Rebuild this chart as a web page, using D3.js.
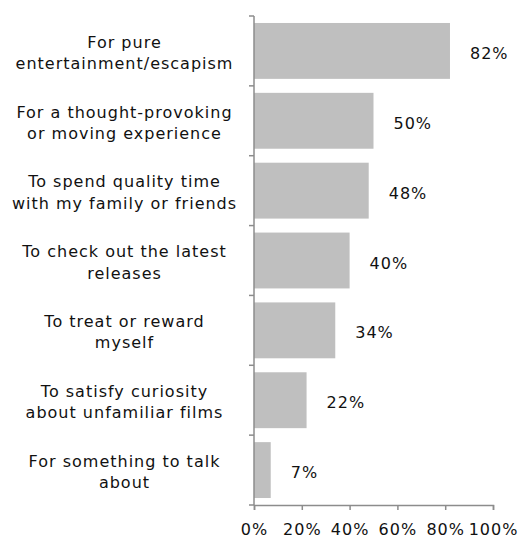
<!DOCTYPE html>
<html>
<head>
<meta charset="utf-8">
<script src="https://cdn.jsdelivr.net/npm/d3@7"></script>
<style>
  html, body { margin: 0; padding: 0; background: #fff; }
  svg text { font-family: "DejaVu Sans", Verdana, sans-serif; fill: #111; letter-spacing: 1px; }
</style>
</head>
<body>
<svg id="chart" width="520" height="538"></svg>
<script>
// Reasons for going to the cinema, share of respondents
const categories = [
  ["For pure", "entertainment/escapism"],
  ["For a thought-provoking", "or moving experience"],
  ["To spend quality time", "with my family or friends"],
  ["To check out the latest", "releases"],
  ["To treat or reward", "myself"],
  ["To satisfy curiosity", "about unfamiliar films"],
  ["For something to talk", "about"]
];
const values = [82, 50, 48, 40, 34, 22, 7];
const tickValues = [0, 20, 40, 60, 80, 100];

const margin = { top: 16, left: 254, right: 27, bottom: 33 };
const width = 520, height = 538;
const fontSize = 16;
const svg = d3.select("#chart");

const x = d3.scaleLinear().domain([0, 100]).range([margin.left, width - margin.right]);
const y = d3.scaleBand()
  .domain(d3.range(categories.length))
  .range([margin.top, height - margin.bottom])
  .paddingInner(0.2)
  .paddingOuter(0.1);

const axisColor = "#8c8c8c";

// bars
svg.append("g").selectAll("rect")
  .data(values)
  .join("rect")
  .attr("x", x(0))
  .attr("y", (d, i) => y(i))
  .attr("width", d => x(d) - x(0))
  .attr("height", y.bandwidth())
  .attr("fill", "#bfbfbf");

// value labels
svg.append("g").selectAll("text")
  .data(values)
  .join("text")
  .attr("x", d => x(d) + 20)
  .attr("y", (d, i) => y(i) + y.bandwidth() / 2)
  .attr("dy", "0.5em")
  .attr("font-size", fontSize)
  .text(d => d + "%");

// category axis: line with tick marks on band boundaries
const yAxis = svg.append("g");
const step = y.step();
const bounds = d3.range(categories.length + 1).map(i => margin.top + i * step);
yAxis.append("line")
  .attr("x1", x(0)).attr("x2", x(0))
  .attr("y1", margin.top).attr("y2", height - margin.bottom)
  .attr("stroke", axisColor).attr("stroke-width", 1.5);
yAxis.selectAll("line.tick")
  .data(bounds)
  .join("line")
  .attr("class", "tick")
  .attr("x1", x(0) - 5).attr("x2", x(0))
  .attr("y1", d => d).attr("y2", d => d)
  .attr("stroke", axisColor).attr("stroke-width", 1.5);

// category labels (two lines each)
const labelX = 124.5;
const labels = svg.append("g").selectAll("text")
  .data(categories)
  .join("text")
  .attr("text-anchor", "middle")
  .attr("font-size", fontSize)
  .attr("x", labelX)
  .attr("y", (d, i) => y(i) + y.bandwidth() / 2);
labels.selectAll("tspan")
  .data(d => d)
  .join("tspan")
  .attr("x", labelX)
  .attr("dy", (d, j) => j === 0 ? "-0.2em" : "1.33em")
  .text(d => d);

// value axis
const xAxis = svg.append("g")
  .attr("transform", `translate(0,${height - margin.bottom})`)
  .call(d3.axisBottom(x).tickValues(tickValues).tickSize(5).tickPadding(14).tickFormat(d => d + "%"));
xAxis.select(".domain").attr("stroke", axisColor).attr("stroke-width", 1.5);
xAxis.selectAll(".tick line").attr("stroke", axisColor).attr("stroke-width", 1.5);
xAxis.selectAll(".tick text")
  .attr("font-size", fontSize)
  .attr("font-family", "DejaVu Sans, Verdana, sans-serif")
  .attr("fill", "#111");
</script>
</body>
</html>
